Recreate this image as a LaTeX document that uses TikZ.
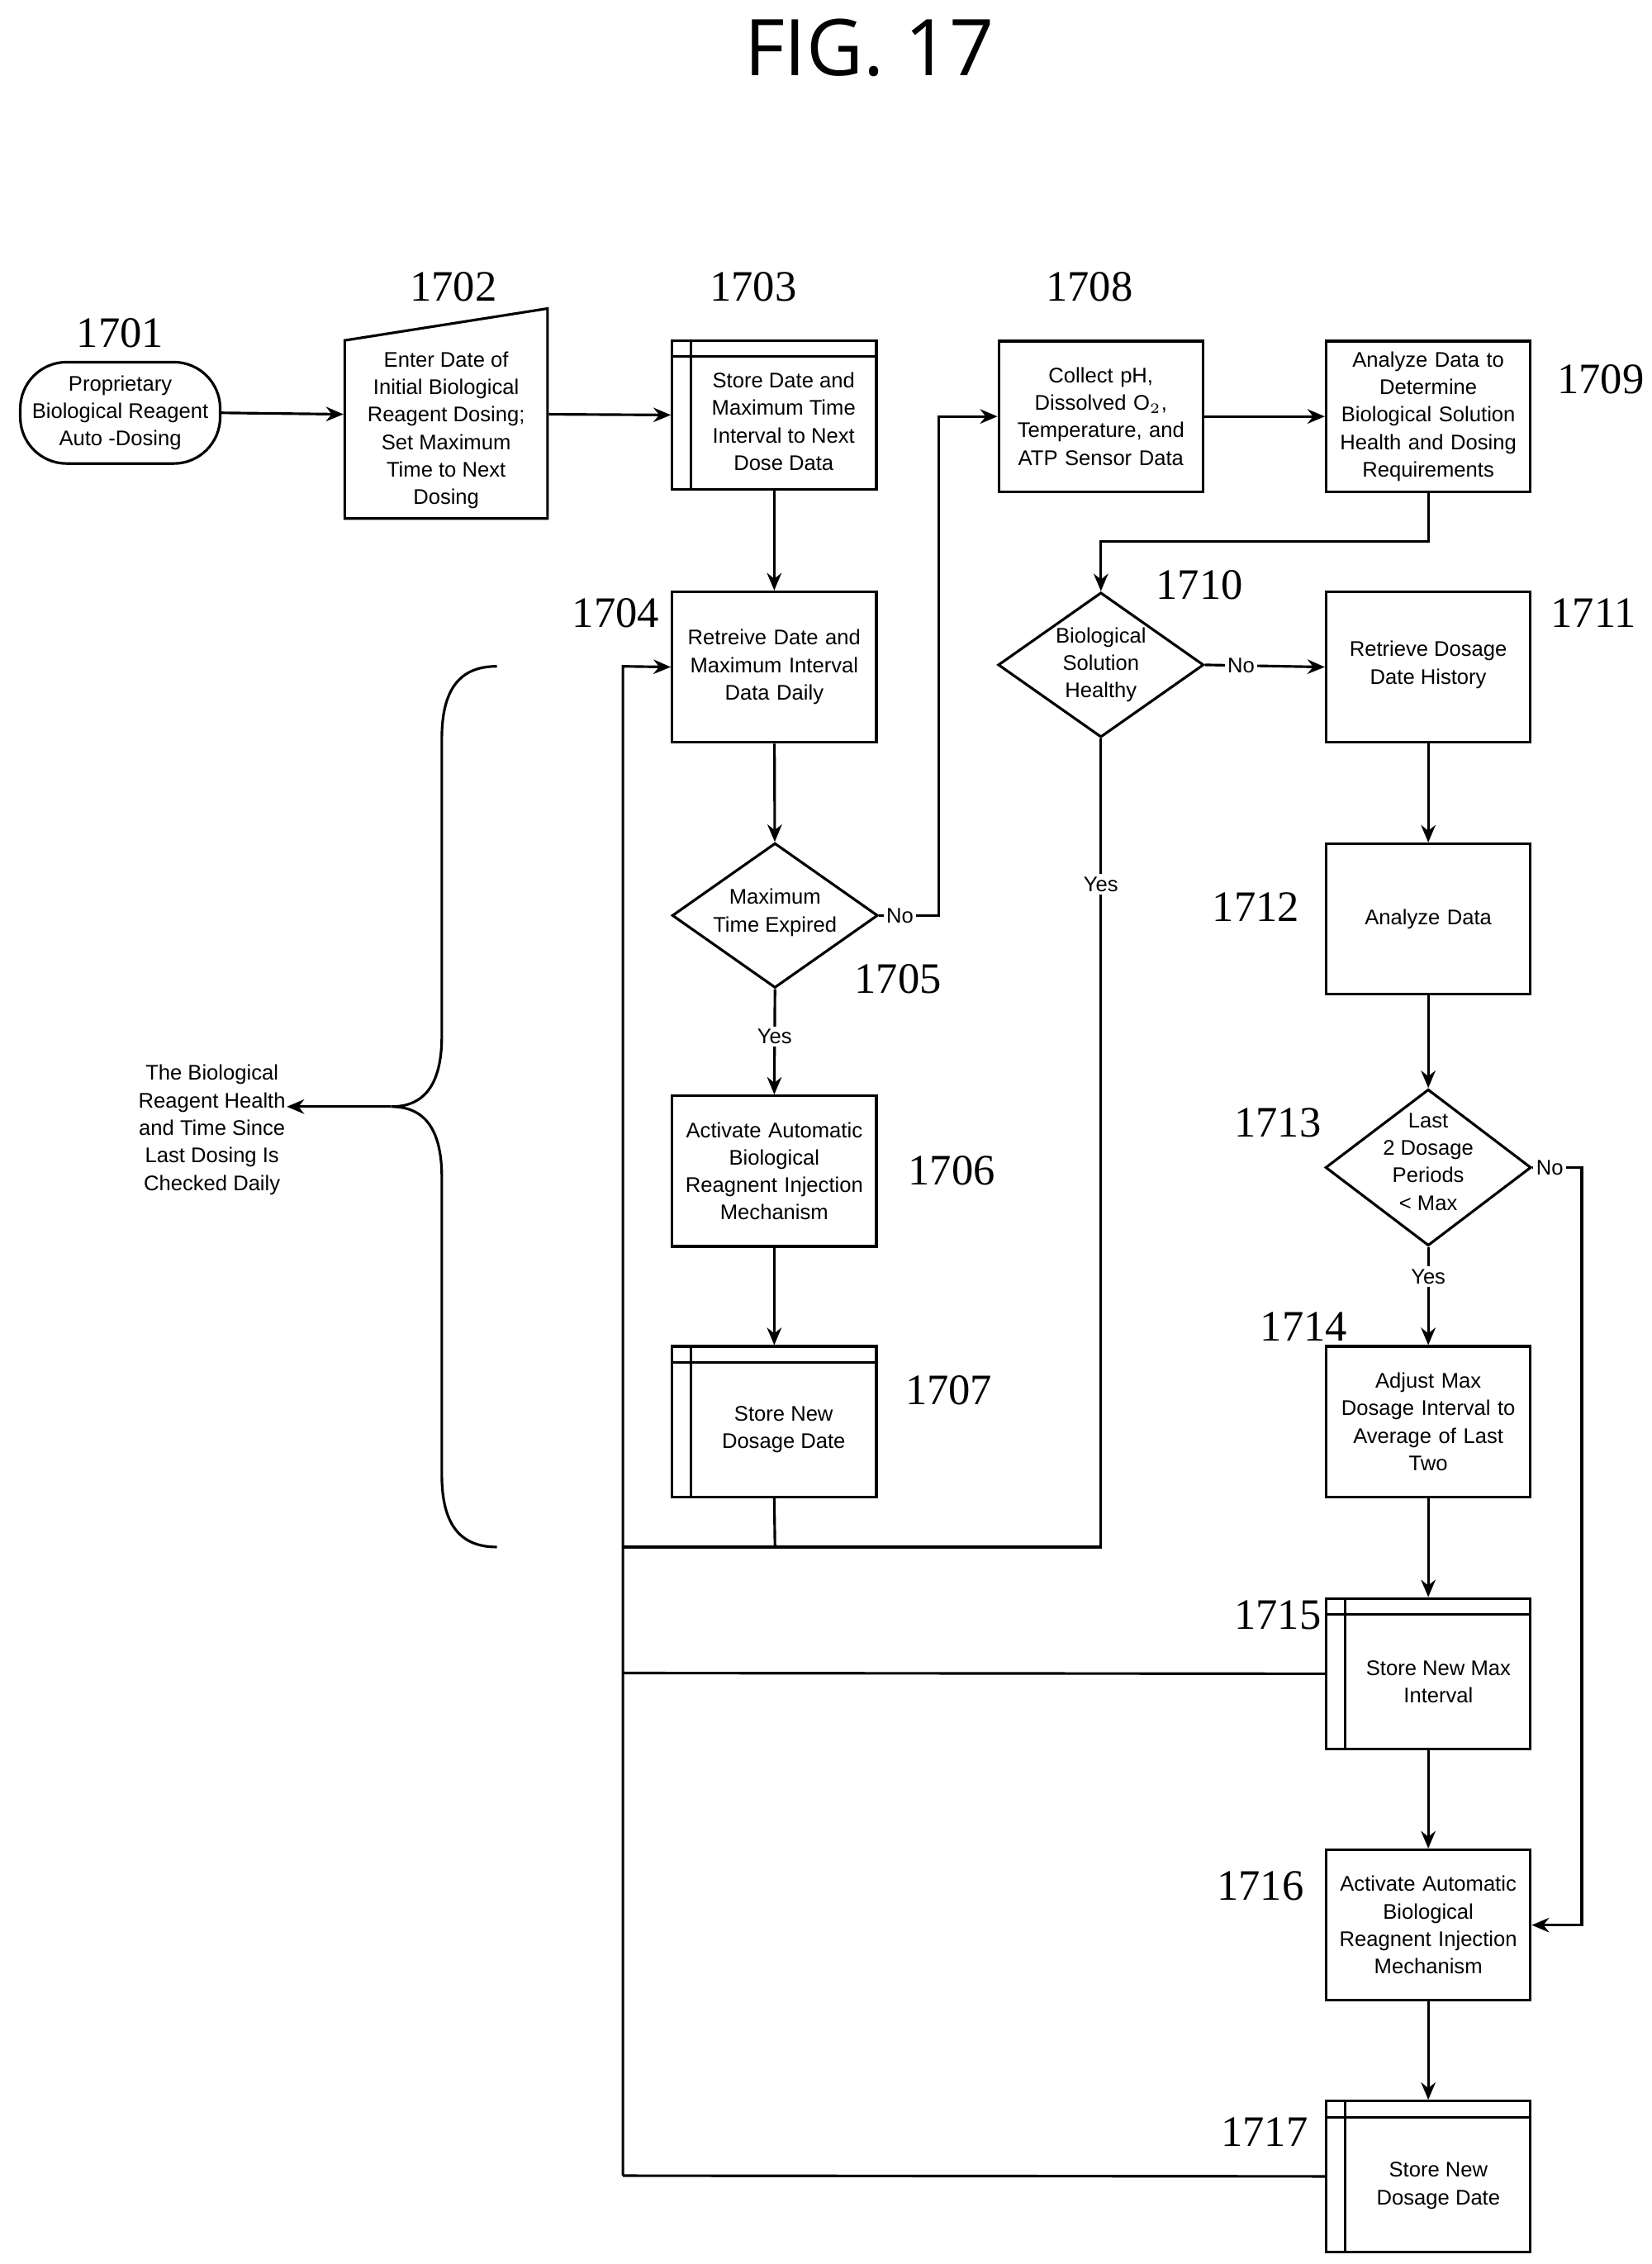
\documentclass[tikz,border=0pt]{standalone}
\usepackage{fontspec}
\setmainfont{Liberation Sans}
\newfontfamily\numfont{Liberation Serif}
\newfontfamily\figfont{Open Sans}
\usetikzlibrary{shapes.geometric,arrows.meta,calc}
\begin{document}
\begin{tikzpicture}[x=0.5pt,y=-0.5pt,line width=0.9pt,
  box/.style={draw,minimum width=70.5pt,minimum height=52pt,inner sep=0pt,text width=66pt,align=center,font=\fontsize{7.3}{9.5}\selectfont},
  txt/.style={align=center,font=\fontsize{7.3}{9.5}\selectfont,inner sep=0pt},
  dia/.style={draw,diamond,minimum width=71pt,minimum height=50pt,inner sep=0pt},
  num/.style={font=\numfont\fontsize{15}{15}\selectfont,inner sep=0pt},
  lab/.style={fill=white,inner sep=1pt,font=\fontsize{7.3}{9}\selectfont},
  arr/.style={-{Stealth[length=6pt,width=5pt]}}]
\useasboundingbox (0,0) rectangle (1140,1563);
\node[font=\figfont\fontsize{27}{27}\selectfont] (fig) at (600,33) {FIG. 17};
% nodes
\node[draw,rounded corners=16pt,minimum width=69pt,minimum height=35pt,inner sep=0pt,align=center,font=\fontsize{7.3}{9.5}\selectfont] (n1) at (83,285) {Proprietary\\Biological Reagent\\Auto -Dosing};
\draw (238,235) -- (378,213) -- (378,358) -- (238,358) -- cycle;
\node[minimum width=70pt,minimum height=40pt,inner sep=0pt] (n2) at (308,286) {};
\node[txt] (t2) at (308,297) {Enter Date of\\Initial Biological\\Reagent Dosing;\\Set Maximum\\Time to Next\\Dosing};
\node[box,minimum height=51.5pt] (n3) at (534.5,286.5) {};
\node[txt] (t3) at (541,291) {Store Date and\\Maximum Time\\Interval to Next\\Dose Data};
\node[box] (n8) at (760,287.5) {Collect pH,\\Dissolved O$_2$,\\Temperature, and\\ATP Sensor Data};
\node[box] (n9) at (986,287.5) {Analyze Data to\\Determine\\Biological Solution\\Health and Dosing\\Requirements};
\node[box] (n4) at (534.5,460.5) {Retreive Date and\\Maximum Interval\\Data Daily};
\node[dia] (n5) at (535,632) {};
\node[txt] (t5) at (535,630) {Maximum\\Time Expired};
\node[box] (n6) at (534.5,808.5) {Activate Automatic\\Biological\\Reagnent Injection\\Mechanism};
\node[box] (n7) at (534.5,981.5) {};
\node[txt] (t7) at (541,987) {Store New\\Dosage Date};
\node[dia] (n10) at (760,459) {};
\node[txt] (t10) at (760,459) {Biological\\Solution\\Healthy};
\node[box] (n11) at (986,460.5) {};
\node[txt] (t11) at (986,459) {Retrieve Dosage\\Date History};
\node[box] (n12) at (986,634.5) {Analyze Data};
\node[dia,minimum height=54pt] (n13) at (986,806) {};
\node[txt] (t13) at (986,802) {Last\\2 Dosage\\Periods\\< Max};
\node[box] (n14) at (986,981.5) {Adjust Max\\Dosage Interval to\\Average of Last\\Two};
\node[box] (n15) at (986,1155.5) {};
\node[txt] (t15) at (993,1161) {Store New Max\\Interval};
\node[box] (n16) at (986,1329) {Activate Automatic\\Biological\\Reagnent Injection\\Mechanism};
\node[box] (n17) at (986,1502.5) {};
\node[txt] (t17) at (993,1509) {Store New\\Dosage Date};
% store decorations
\foreach \s in {n3,n7,n15,n17}{
  \draw ($(\s.north west)+(14,0)$) -- ($(\s.south west)+(14,0)$);
  \draw ($(\s.north west)+(0,12)$) -- ($(\s.north east)+(0,12)$);
}
% numbers
\node[num] at (83,230) {1701};
\node[num] at (313,198) {1702};
\node[num] at (520,198) {1703};
\node[num] at (752,198) {1708};
\node[num] at (1105,262) {1709};
\node[num] at (425,423) {1704};
\node[num] at (828,404) {1710};
\node[num] at (1100,423) {1711};
\node[num] at (620,676) {1705};
\node[num] at (657,808) {1706};
\node[num] at (867,626) {1712};
\node[num] at (655,960) {1707};
\node[num] at (882,775) {1713};
\node[num] at (900,916) {1714};
\node[num] at (882,1115) {1715};
\node[num] at (870,1302) {1716};
\node[num] at (873,1472) {1717};
% connectors
\draw[arr] (n1.east) -- (n2.west);
\draw[arr] (n2.east) -- (n3.west);
\draw[arr] (n3) -- (n4);
\draw[arr] (n4) -- (n5);
\draw[arr] (n5.south) -- node[lab,pos=0.45]{Yes} (n6.north);
\draw[arr] (n6) -- (n7);
\coordinate (c5) at (648,632);
\draw[arr] (n5.east) -- node[lab,pos=0.35]{No} (c5) |- (n8.west);
\draw[arr] (n8) -- (n9);
\coordinate (c9) at (986,374);
\draw[arr] (n9.south) -- (c9) -| (n10.north);
\draw[arr] (n10.east) -- node[lab,pos=0.3]{No} (n11.west);
\coordinate (y1) at (760,1068);
\coordinate (y0) at (430,1068);
\draw (n10.south) -- node[lab,pos=0.18]{Yes} (y1) -- (y0);
\draw (n7.south) -- (535,1068);
\coordinate (lb) at (430,1502);
\coordinate (lt) at (430,460);
\draw[arr] (lb) -- (lt) -- (n4.west);
\draw (n15.west) -- (430,1155);
\draw (n17.west) -- (lb);
\draw[arr] (n11) -- (n12);
\draw[arr] (n12) -- (n13);
\draw[arr] (n13.south) -- node[lab,pos=0.3]{Yes} (n14.north);
\draw[arr] (n14) -- (n15);
\draw[arr] (n15) -- (n16);
\draw[arr] (n16) -- (n17);
\coordinate (c13) at (1092,806);
\draw[arr] (n13.east) -- node[lab,pos=0.35]{No} (c13) |- (n16.east);
% brace
\draw (343,460) .. controls (318,460) and (305,475) .. (305,510) -- (305,715)
  .. controls (305,750) and (292,764) .. (270,764)
  .. controls (292,764) and (305,778) .. (305,813) -- (305,1018)
  .. controls (305,1053) and (318,1068) .. (343,1068);
\node[txt,anchor=east] (bt) at (198,780) {The Biological\\Reagent Health\\and Time Since\\Last Dosing Is\\Checked Daily};
\coordinate (bp) at (270,764);
\draw[arr] (bp) -- (bt.east |- bp);
\end{tikzpicture}
\end{document}
